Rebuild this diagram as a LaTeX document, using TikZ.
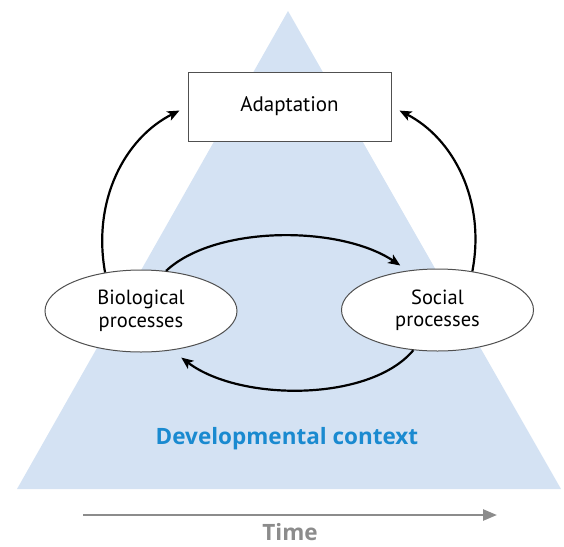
\documentclass[tikz,border=0pt]{standalone}
\usepackage{fontspec}
\setmainfont{PT Sans}
\newfontfamily\boldlabel{Open Sans}
\usetikzlibrary{arrows.meta,shapes.geometric}
\definecolor{trifill}{HTML}{D4E2F3}
\definecolor{ctxblue}{HTML}{1A8AD0}
\definecolor{timegray}{HTML}{8C8C8C}
\definecolor{outline}{HTML}{505050}
\tikzset{
  boxnode/.style={draw=outline,line width=1pt,fill=white,minimum width=203pt,minimum height=69pt,inner sep=0pt,font=\fontsize{21}{23}\selectfont},
  procnode/.style={draw=outline,line width=1pt,fill=white,ellipse,minimum width=192pt,minimum height=82pt,inner sep=0pt,align=center,font=\fontsize{20.5}{22.5}\selectfont},
  flow/.style={line width=2.2pt,-{Stealth[length=12pt,width=10pt,inset=3pt]}},
  boldtext/.style={font=\boldlabel\fontsize{22.5}{25}\selectfont\bfseries},
}
\begin{document}
\begin{tikzpicture}[x=1pt,y=-1pt]
\useasboundingbox (0,0) rectangle (564,546);
\fill[trifill] (17,489) -- (561,489) -- (288,11) -- cycle;
\node[boxnode] (adapt) at (289.5,106.5) {Adaptation};
\node[procnode] (bio) at (141,311) {Biological\\processes};
\node[procnode] (soc) at (437.5,310) {Social\\processes};
\node[boldtext,text=ctxblue] (ctx) at (287,439) {Developmental context};
\coordinate (t0) at (83,515);
\coordinate (t1) at (497,515);
\draw[line width=2.5pt,draw=timegray,-{Triangle[length=14pt,width=11pt]}] (t0) -- (t1);
\node[boldtext,text=timegray,anchor=base,inner sep=0pt] (time) at (290,540.5) {Time};
\draw[flow,shorten >=9pt] (bio.133) .. controls (92,200) and (125,138) .. (adapt.west);
\draw[flow,shorten >=9pt] (soc.48) .. controls (486,200) and (453,138) .. (adapt.east);
\draw[flow,shorten >=9pt] (bio.58) .. controls (215,225) and (340,225) .. (soc.127);
\draw[flow,shorten >=12pt] (soc.239) .. controls (370,402) and (240,402) .. (bio.-52);
\end{tikzpicture}
\end{document}
